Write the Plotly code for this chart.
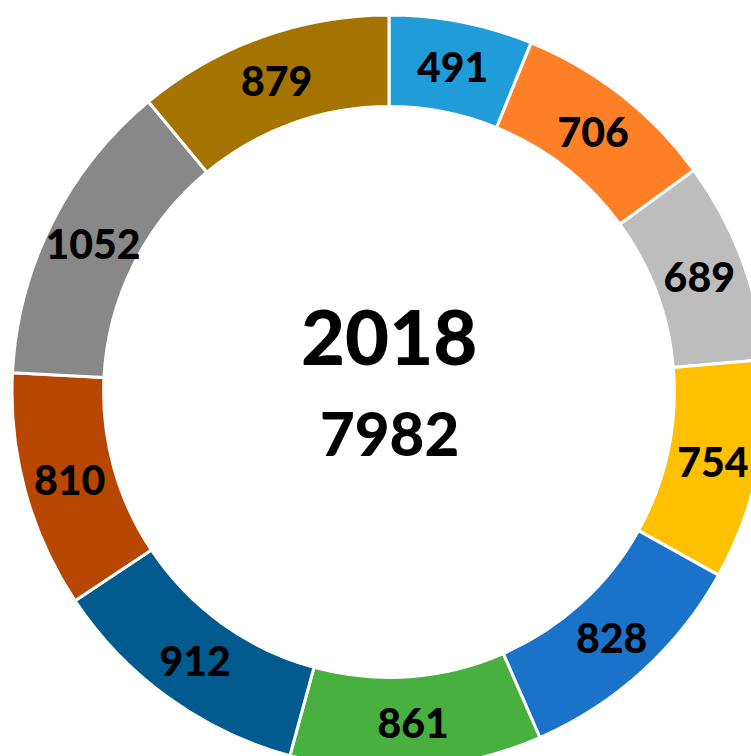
import plotly.graph_objects as go

# data
YEAR = "2018"
values = [491, 706, 689, 754, 828, 861, 912, 810, 1052, 879]
colors = [
    "#209CD8", "#FF7F27", "#BDBDBD", "#FFC000", "#1A73C8",
    "#47B03F", "#015B8F", "#B74700", "#888888", "#A57400",
]

W, H = 778, 784
CX, CY, R = 389, 392, 377
FONT = "Lato, 'Open Sans', sans-serif"

fig = go.Figure(go.Pie(
    values=values,
    text=[str(v) for v in values],
    textinfo="text",
    textposition="inside",
    insidetextorientation="horizontal",
    textfont=dict(family=FONT, size=41, color="black", weight=900),
    marker=dict(colors=colors, line=dict(color="white", width=3)),
    hole=0.757,
    sort=False,
    direction="clockwise",
    rotation=0,
    domain=dict(x=[(CX - R) / W, (CX + R) / W],
                y=[1 - (CY + R) / H, 1 - (CY - R) / H]),
    hoverinfo="value",
    showlegend=False,
))

fig.add_annotation(text=YEAR, x=CX / W, y=1 - 335 / H, xref="paper", yref="paper",
                   showarrow=False, font=dict(family=FONT, size=76, color="black", weight=900))
fig.add_annotation(text=str(sum(values)), x=CX / W, y=1 - 433 / H, xref="paper", yref="paper",
                   showarrow=False, font=dict(family=FONT, size=60, color="black", weight=900))

fig.update_layout(
    width=W, height=H,
    margin=dict(l=0, r=0, t=0, b=0),
    paper_bgcolor="white",
    plot_bgcolor="white",
    uniformtext=dict(minsize=41, mode="show"),
)

fig.write_html(
    "out.html",
    config={"displayModeBar": False},
    post_script="document.body.style.margin='0';"
                "document.body.style.overflow='hidden';"
                "document.documentElement.style.overflow='hidden';",
)
